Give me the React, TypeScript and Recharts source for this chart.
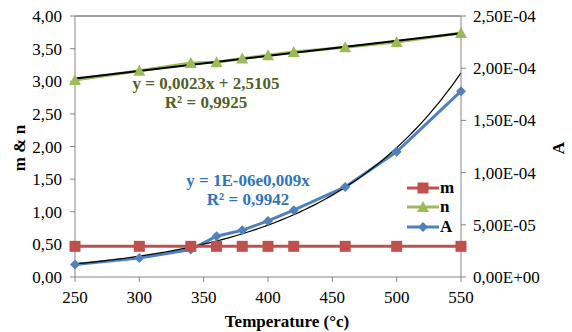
import React from "react";
import {
  ComposedChart,
  Line,
  XAxis,
  YAxis,
  ReferenceLine,
  Legend,
} from "recharts";

const temperatures = [250, 300, 340, 360, 380, 400, 420, 460, 500, 550];
const mValues = [0.47, 0.47, 0.47, 0.47, 0.47, 0.47, 0.47, 0.47, 0.47, 0.47];
const nValues = [3.02, 3.16, 3.28, 3.29, 3.35, 3.4, 3.45, 3.52, 3.6, 3.74];
const aValues = [
  1.2e-5, 1.82e-5, 2.63e-5, 3.9e-5, 4.48e-5, 5.37e-5, 6.4e-5, 8.63e-5, 1.2e-4,
  1.78e-4,
];

const xTicks = [250, 300, 350, 400, 450, 500, 550];
const leftTicks = [0, 0.5, 1, 1.5, 2, 2.5, 3, 3.5, 4];
const rightTicks = [0, 5e-5, 1e-4, 1.5e-4, 2e-4, 2.5e-4];

const FONT = "'Liberation Serif', 'Times New Roman', serif";
const RED = "#C0504D";
const GREEN = "#9BBB59";
const BLUE = "#4F81BD";
const AXIS = "#868686";

const rows = temperatures.map((t, i) => ({
  t,
  m: mValues[i],
  n: nValues[i],
  A: aValues[i],
}));

// least squares fits, like the spreadsheet trendlines
function linearFit(xs: number[], ys: number[]) {
  const k = xs.length;
  const mx = xs.reduce((s, v) => s + v, 0) / k;
  const my = ys.reduce((s, v) => s + v, 0) / k;
  let sxy = 0;
  let sxx = 0;
  xs.forEach((x, i) => {
    sxy += (x - mx) * (ys[i] - my);
    sxx += (x - mx) * (x - mx);
  });
  const slope = sxy / sxx;
  return { slope, intercept: my - slope * mx };
}

const nFit = linearFit(temperatures, nValues);
const aFit = linearFit(
  temperatures,
  aValues.map((v) => Math.log(v))
);

const nTrend = [250, 550].map((t) => ({
  t,
  nt: nFit.intercept + nFit.slope * t,
}));

const aTrend: { t: number; at: number }[] = [];
for (let t = 250; t <= 550; t += 5) {
  aTrend.push({ t, at: Math.exp(aFit.intercept + aFit.slope * t) });
}

const legendItems = [
  { name: "m", color: RED, shape: "square" },
  { name: "n", color: GREEN, shape: "triangle" },
  { name: "A", color: BLUE, shape: "diamond" },
];

const textStyle = { fontFamily: FONT, fontSize: 17 };

function marker(shape: string, color: string, cx: number, cy: number) {
  if (shape === "square") {
    return <rect x={cx - 5.5} y={cy - 5.5} width={11} height={11} fill={color} />;
  }
  if (shape === "triangle") {
    return (
      <polygon
        points={`${cx},${cy - 6} ${cx + 6},${cy + 5} ${cx - 6},${cy + 5}`}
        fill={color}
      />
    );
  }
  return (
    <polygon
      points={`${cx},${cy - 5} ${cx + 5},${cy} ${cx},${cy + 5} ${cx - 5},${cy}`}
      fill={color}
    />
  );
}

function makeDot(shape: string, color: string) {
  return (props: any) => {
    const { cx, cy, index } = props;
    return <g key={`${shape}-${index}`}>{marker(shape, color, cx, cy)}</g>;
  };
}

function formatLeft(v: number) {
  return v.toFixed(2).replace(".", ",");
}

function formatRight(v: number) {
  if (v === 0) return "0,00E+00";
  const exp = Math.floor(Math.log10(v) + 1e-9);
  const mant = v / Math.pow(10, exp);
  const sign = exp < 0 ? "-" : "+";
  const e = String(Math.abs(exp)).padStart(2, "0");
  return `${mant.toFixed(2).replace(".", ",")}E${sign}${e}`;
}

function XTick(props: any) {
  const { x, y, payload } = props;
  return (
    <text x={x} y={y + 17} textAnchor="middle" fill="#000" style={textStyle}>
      {payload.value}
    </text>
  );
}

function LeftTick(props: any) {
  const { x, y, payload } = props;
  return (
    <text x={x} y={y + 6} textAnchor="end" fill="#000" style={textStyle}>
      {formatLeft(payload.value)}
    </text>
  );
}

function RightTick(props: any) {
  const { x, y, payload } = props;
  return (
    <text x={x} y={y + 6} textAnchor="start" fill="#000" style={textStyle}>
      {formatRight(payload.value)}
    </text>
  );
}

function renderLegend() {
  return (
    <div style={{ fontFamily: FONT, fontSize: 17, fontWeight: "bold" }}>
      {legendItems.map((item) => (
        <div
          key={item.name}
          style={{ display: "flex", alignItems: "center", height: 19.5 }}
        >
          <svg width={32} height={14}>
            <line x1={0} y1={7} x2={32} y2={7} stroke={item.color} strokeWidth={3} />
            {marker(item.shape, item.color, 16, 7)}
          </svg>
          <span style={{ marginLeft: 1, color: "#000" }}>{item.name}</span>
        </div>
      ))}
    </div>
  );
}

const titleStyle = { fontFamily: FONT, fontSize: 17, fontWeight: "bold" as const };

export default function App() {
  return (
    <div
      style={{
        position: "absolute",
        left: 0,
        top: 0,
        width: 572,
        height: 332,
        background: "#fff",
        fontFamily: FONT,
      }}
    >
      <ComposedChart
        width={572}
        height={332}
        data={rows}
        margin={{ top: 16, right: 0, bottom: 0, left: 0 }}
        style={{ fontFamily: FONT }}
      >
        <XAxis
          dataKey="t"
          type="number"
          domain={[250, 550]}
          ticks={xTicks}
          tick={<XTick />}
          tickLine={{ stroke: AXIS }}
          axisLine={{ stroke: AXIS }}
          tickSize={5}
          tickMargin={4}
          height={55}
          label={() => (
            <text
              x={287}
              y={321}
              textAnchor="middle"
              dominantBaseline="central"
              fill="#000"
              style={titleStyle}
            >
              Temperature (°c)
            </text>
          )}
        />
        <YAxis
          yAxisId="left"
          domain={[0, 4]}
          ticks={leftTicks}
          tick={<LeftTick />}
          tickLine={{ stroke: AXIS }}
          axisLine={{ stroke: AXIS }}
          tickSize={5}
          tickMargin={8}
          width={75}
          label={() => (
            <text
              x={19}
              y={148}
              transform="rotate(-90 19 148)"
              textAnchor="middle"
              dominantBaseline="central"
              fill="#000"
              style={titleStyle}
            >
              m &amp; n
            </text>
          )}
        />
        <YAxis
          yAxisId="right"
          orientation="right"
          domain={[0, 2.5e-4]}
          ticks={rightTicks}
          tick={<RightTick />}
          tickLine={{ stroke: AXIS }}
          axisLine={{ stroke: AXIS }}
          tickSize={5}
          tickMargin={7}
          width={111}
          label={() => (
            <text
              x={558}
              y={148}
              transform="rotate(-90 558 148)"
              textAnchor="middle"
              dominantBaseline="central"
              fill="#000"
              style={titleStyle}
            >
              A
            </text>
          )}
        />
        <ReferenceLine yAxisId="left" y={4} stroke="#404040" strokeWidth={1} />
        <Line
          yAxisId="right"
          dataKey="A"
          type="linear"
          stroke={BLUE}
          strokeWidth={3}
          dot={makeDot("diamond", BLUE)}
          activeDot={false}
          isAnimationActive={false}
        />
        <Line
          yAxisId="right"
          data={aTrend}
          dataKey="at"
          type="monotone"
          stroke="#000"
          strokeWidth={1.2}
          dot={false}
          activeDot={false}
          isAnimationActive={false}
        />
        <Line
          yAxisId="left"
          dataKey="m"
          type="linear"
          stroke={RED}
          strokeWidth={3}
          dot={makeDot("square", RED)}
          activeDot={false}
          isAnimationActive={false}
        />
        <Line
          yAxisId="left"
          dataKey="n"
          type="linear"
          stroke={GREEN}
          strokeWidth={3}
          dot={makeDot("triangle", GREEN)}
          activeDot={false}
          isAnimationActive={false}
        />
        <Line
          yAxisId="left"
          data={nTrend}
          dataKey="nt"
          type="linear"
          stroke="#000"
          strokeWidth={2}
          dot={false}
          activeDot={false}
          isAnimationActive={false}
        />
        <Legend
          layout="vertical"
          align="center"
          verticalAlign="middle"
          content={renderLegend}
          wrapperStyle={{ position: "absolute", left: 407, top: 178, width: 60 }}
        />
      </ComposedChart>
      <div
        style={{
          position: "absolute",
          left: 0,
          top: 0,
          width: 572,
          height: 332,
          pointerEvents: "none",
          fontWeight: "bold",
          fontSize: 17,
          lineHeight: "19px",
        }}
      >
        <div style={{ position: "absolute", left: 106, width: 200, top: 74, textAlign: "center", color: "#4F6228" }}>
          y = 0,0023x + 2,5105
          <br />
          R² = 0,9925
        </div>
        <div style={{ position: "absolute", left: 148, width: 200, top: 171, textAlign: "center", color: "#2E75C0" }}>
          y = 1E-06e0,009x
          <br />
          R² = 0,9942
        </div>
      </div>
    </div>
  );
}
